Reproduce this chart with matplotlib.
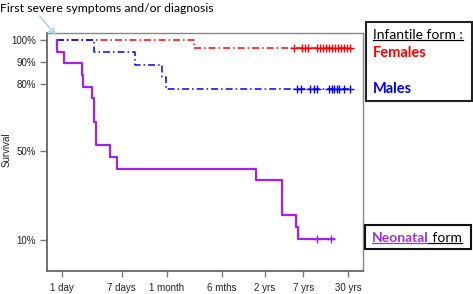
import numpy as np
import matplotlib.pyplot as plt
from matplotlib.patches import Rectangle
from matplotlib.lines import Line2D

# survival curves (time in days, survival in %)
neo_t = [0.86, 0.86, 1.08, 1.90, 1.96, 2.67, 2.86, 2.99, 4.81, 5.92, 544, 1280, 2018, 2133, 7015]
neo_s = [100, 94.7, 89.5, 84.2, 78.9, 73.7, 63.2, 52.6, 47.4, 42.1, 36.8, 21.1, 15.8, 10.5, 10.5]
neo_cens = [4036, 6237]

male_t = [0.86, 2.86, 10.7, 25.6, 29.4, 11672]
male_s = [100, 94.4, 88.9, 83.3, 77.8, 77.8]
male_cens = [2085, 2375, 3184, 3626, 3998, 5902, 6505, 7060, 7660, 8306, 9606, 11672]

fem_t = [0.86, 73.9, 12880]
fem_s = [100, 96.6, 96.6]
fem_cens = [1862, 2455, 2705, 2983, 3998, 4406, 4857, 5354, 5902, 6505, 7171, 7905, 8714, 9606, 10589, 11672]

xticks = [1, 7, 30, 182.5, 730, 2555, 10950]
xlabels = ["1 day", "7 days", "1 month", "6 mths", "2 yrs", "7 yrs", "30 yrs"]
yticks = [100, 90, 80, 50, 10]
ylabels = ["100%", "90%", "80%", "50%", "10%"]

PURPLE = "#A020F0"


def surv_at(t, s, times):
    t = np.asarray(t)
    s = np.asarray(s)
    return [s[np.searchsorted(t, x, side="right") - 1] for x in times]


fig = plt.figure(figsize=(4.73, 2.94), dpi=100)
ax = fig.add_axes([47 / 473, 23 / 294, 316 / 473, 238 / 294])
ax.set_xscale("log")

dash = (0, (4.5, 2, 1, 2))
ax.plot(fem_t, fem_s, color="red", lw=1.1, linestyle=dash, drawstyle="steps-post")
ax.plot(fem_cens, surv_at(fem_t, fem_s, fem_cens), "+", color="red", ms=6, mew=1)
ax.plot(male_t, male_s, color="blue", lw=1.1, linestyle=dash, drawstyle="steps-post")
ax.plot(male_cens, surv_at(male_t, male_s, male_cens), "+", color="blue", ms=6, mew=1)
ax.plot(neo_t, neo_s, color=PURPLE, lw=1.6, drawstyle="steps-post")
ax.plot(neo_cens, surv_at(neo_t, neo_s, neo_cens), "+", color=PURPLE, ms=6, mew=1)

ax.set_xlim(0.614, 17840)
ax.set_ylim(-3.96, 103.15)
ax.set_xticks(xticks)
ax.set_xticklabels(xlabels)
ax.xaxis.set_minor_locator(plt.NullLocator())
ax.set_yticks(yticks)
ax.set_yticklabels(ylabels)
ax.tick_params(axis="x", length=4, width=1, color="#777", pad=4.5, labelsize=7, labelcolor="#222")
ax.tick_params(axis="y", length=5, width=1, color="#777", pad=3, labelsize=7, labelcolor="#222")
for s in ["left", "bottom"]:
    ax.spines[s].set_color("#666")
    ax.spines[s].set_linewidth(1.3)
for s in ["top", "right"]:
    ax.spines[s].set_color("#888")
    ax.spines[s].set_linewidth(1.0)
for lab in ax.get_xticklabels() + ax.get_yticklabels():
    lab.set_family("Liberation Sans")
ax.set_ylabel("Survival", fontsize=7, family="Liberation Sans", color="#222", va="center")
ax.yaxis.set_label_coords(-40.5 / 316, 0.51)

# annotation
fig.text(0, 294 - 8, "First severe symptoms and/or diagnosis", fontsize=8.8,
         family="Lato", va="center", ha="left", transform=None)
ax.annotate("", xy=(0.86, 101.3), xycoords="data",
            xytext=(38, 294 - 14), textcoords="figure pixels",
            arrowprops=dict(arrowstyle="->", color="#9fd3d3", lw=1.0))

# legend boxes
fig.add_artist(Rectangle((366 / 473, 193 / 294), 106 / 473, 79 / 294, transform=fig.transFigure,
                         fill=False, edgecolor="#222", lw=1.5))
fig.add_artist(Rectangle((365 / 473, 45 / 294), 106 / 473, 24 / 294, transform=fig.transFigure,
                         fill=False, edgecolor="#111", lw=1.5))

t1 = fig.text(373 / 473, (294 - 35) / 294, "Infantile form :", fontsize=10, family="Lato",
              va="center", ha="left", color="black")
fig.text(373 / 473, (294 - 53) / 294, "Females", fontsize=10.5, family="Lato", weight="bold",
         va="center", ha="left", color="red")
fig.text(373 / 473, (294 - 89) / 294, "Males", fontsize=10.5, family="Lato", weight="bold",
         va="center", ha="left", color="blue")
t2 = fig.text(372 / 473, (294 - 238) / 294, "Neonatal", fontsize=10, family="Lato", weight="bold",
              va="center", ha="left", color="#9933dd")

fig.canvas.draw()
r = fig.canvas.get_renderer()
bb2 = t2.get_window_extent(r)
t3 = fig.text(bb2.x1 / 473, (294 - 238) / 294, " form", fontsize=10, family="Lato",
              va="center", ha="left", color="black")
fig.canvas.draw()


def underline(t, color):
    bb = t.get_window_extent(r)
    y = bb.y0 + 1.5
    fig.add_artist(Line2D([bb.x0 / 473, bb.x1 / 473], [y / 294, y / 294],
                          transform=fig.transFigure, color=color, lw=0.9))


underline(t1, "black")
underline(t2, "#9933dd")
underline(t3, "black")

fig.savefig("out.png", dpi=100)
